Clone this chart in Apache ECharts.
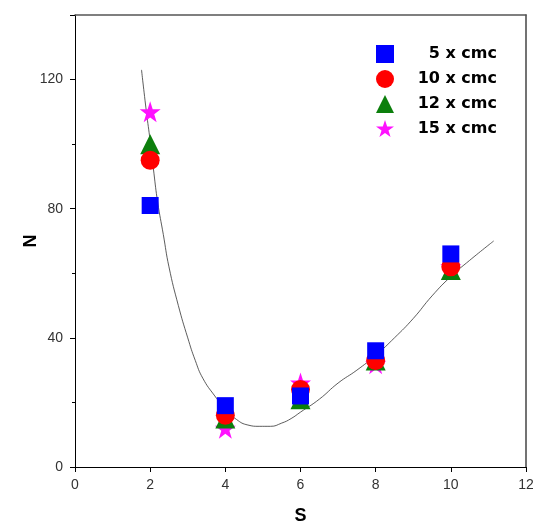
<!DOCTYPE html>
<html>
<head>
<meta charset="utf-8">
<script src="https://cdn.jsdelivr.net/npm/echarts@6/dist/echarts.min.js"></script>
<style>
  html, body { margin: 0; padding: 0; background: #fff; }
  #chart { width: 533px; height: 522px; }
</style>
</head>
<body>
<div id="chart"></div>
<script>
// measured points
var sValues = [2, 4, 6, 8, 10];
var n5 = [81, 19, 22, 36, 66];
var n10 = [95, 16, 24, 33, 62];
var n12 = [100, 15, 21, 33, 61];
var n15 = [110, 12, 26, 32, 62];

// fitted curve
var fitS = [1.77, 1.9, 2.0, 2.1, 2.2, 2.35, 2.5, 2.75, 3.0, 3.2, 3.4, 3.72, 4.0, 4.3, 4.6, 4.9, 5.2, 5.5, 5.75, 6.0, 6.5, 7.0, 7.5, 8.0, 8.5, 9.0, 9.5, 10.0, 10.5, 11.14];
var fitN = [123, 110, 101, 91, 82, 72, 62, 50, 40, 33, 27.5, 22, 18, 14.7, 13, 12.6, 12.6, 13.6, 15, 17, 21, 26, 30, 34.6, 40, 46, 53, 59, 64, 70];

var starPath = 'path://M50,0 L61.8,35.1 L98.9,35.1 L68.9,56.9 L80.3,92.1 L50,70.4 L19.7,92.1 L31.1,56.9 L1.1,35.1 L38.2,35.1 Z';

var font = '"Liberation Sans", Arial, sans-serif';

function pairs(xs, ys) {
  return xs.map(function (x, i) { return [x, ys[i]]; });
}

var chart = echarts.init(document.getElementById('chart'));

var option = {
  animation: false,
  textStyle: { fontFamily: font },
  grid: { left: 75, right: 7, top: 15, bottom: 55, outerBoundsMode: 'none', containLabel: false },
  legend: {
    orient: 'vertical',
    left: 371,
    top: 40,
    itemWidth: 18,
    itemHeight: 18,
    itemGap: 7,
    formatter: function (name) { return '{t|' + name + '}'; },
    textStyle: {
      rich: {
        t: { fontSize: 16, fontWeight: 'bold', color: '#000', width: 98, align: 'right', fontFamily: '"DejaVu Sans", sans-serif' }
      }
    },
    data: [
      { name: '5 x cmc', icon: 'rect' },
      { name: '10 x cmc', icon: 'circle' },
      { name: '12 x cmc', icon: 'triangle' },
      { name: '15 x cmc', icon: starPath }
    ]
  },
  xAxis: [{
    type: 'value',
    min: 0, max: 12, interval: 2,
    name: 'S',
    nameLocation: 'middle',
    nameGap: 40,
    nameMoveOverlap: false,
    nameTextStyle: { fontSize: 18, fontWeight: 'bold', color: '#000', fontFamily: font },
    axisLine: { onZero: false, lineStyle: { color: '#000', width: 1 } },
    axisTick: { inside: false, length: 5, lineStyle: { color: '#000' } },
    axisLabel: { fontSize: 14, color: '#333', margin: 11 },
    splitLine: { show: false }
  }, {
    type: 'value', position: 'top',
    min: 0, max: 12,
    axisLine: { show: true, onZero: false, lineStyle: { color: '#555', width: 1.5 } },
    axisTick: { show: false }, axisLabel: { show: false }, splitLine: { show: false }
  }],
  yAxis: [{
    type: 'value',
    min: 0, max: 140, interval: 40,
    name: 'N',
    nameLocation: 'middle',
    nameGap: 35,
    nameMoveOverlap: false,
    nameTextStyle: { fontSize: 18, fontWeight: 'bold', color: '#000', fontFamily: font },
    axisLine: { show: true, onZero: false, lineStyle: { color: '#000', width: 1 } },
    axisTick: { show: true, length: 5, lineStyle: { color: '#000' } },
    minorTick: { show: true, splitNumber: 2, length: 3, lineStyle: { color: '#000' } },
    axisLabel: { fontSize: 14, color: '#333', margin: 12, showMaxLabel: false },
    splitLine: { show: false }
  }, {
    type: 'value', position: 'right',
    min: 0, max: 140,
    axisLine: { show: true, onZero: false, lineStyle: { color: '#444', width: 1.5 } },
    axisTick: { show: false }, axisLabel: { show: false }, splitLine: { show: false }
  }],
  series: [
    {
      name: 'fit',
      type: 'line',
      smooth: true,
      showSymbol: false,
      silent: true,
      z: 1,
      lineStyle: { color: '#333', width: 0.8 },
      data: pairs(fitS, fitN)
    },
    {
      name: '15 x cmc', type: 'scatter', symbol: starPath, symbolSize: 21, z: 2,
      itemStyle: { color: '#ff11ff', opacity: 1 }, data: pairs(sValues, n15)
    },
    {
      name: '12 x cmc', type: 'scatter', symbol: 'triangle', symbolSize: 20, z: 3,
      itemStyle: { color: '#0c7f0c', opacity: 1 }, data: pairs(sValues, n12)
    },
    {
      name: '10 x cmc', type: 'scatter', symbol: 'circle', symbolSize: 19, z: 4,
      itemStyle: { color: '#ff0000', opacity: 1 }, data: pairs(sValues, n10)
    },
    {
      name: '5 x cmc', type: 'scatter', symbol: 'rect', symbolSize: 17, z: 5,
      itemStyle: { color: '#0000ff', opacity: 1 }, data: pairs(sValues, n5)
    }
  ]
};

chart.setOption(option);
</script>
</body>
</html>
